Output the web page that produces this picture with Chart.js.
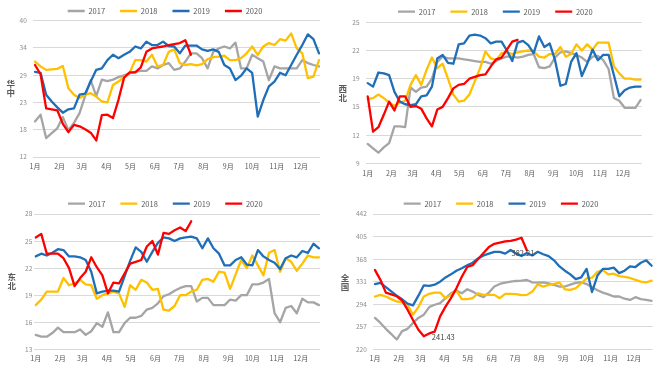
<!DOCTYPE html>
<html><head><meta charset="utf-8">
<script src="https://cdn.jsdelivr.net/npm/chart.js@4/dist/chart.umd.min.js"></script>
<style>
html,body{margin:0;padding:0;background:#fff;}
#wrap{position:relative;width:660px;height:367px;overflow:hidden;background:#fff;}
canvas{position:absolute;display:block;}
</style></head><body>
<div id="wrap">
<canvas id="c1" width="330" height="183" style="left:0;top:0"></canvas>
<canvas id="c2" width="330" height="183" style="left:330px;top:0"></canvas>
<canvas id="c3" width="330" height="184" style="left:0;top:183px"></canvas>
<canvas id="c4" width="330" height="184" style="left:330px;top:183px"></canvas>
</div>
<script>
// ---------- data ----------
const years = ['2017', '2018', '2019', '2020'];
const months = ['1月','2月','3月','4月','5月','6月','7月','8月','9月','10月','11月','12月'];
const monthDays = [31, 28, 31, 30, 31, 30, 31, 31, 30, 31, 30, 31];
const regions = ['华中', '西北', '东北', '全国'];

// 华中
const hzTicks = ['12', '18', '23', '29', '34', '40'];
const hz2017 = [19.3, 20.7, 15.9, 16.9, 17.9, 20.2, 17.5, 19.0, 21.0, 24.5, 27.8, 24.5, 27.9, 27.6, 27.9, 28.4, 28.8, 29.2, 29.5, 29.7, 29.7, 30.6, 30.2, 30.9, 31.3, 29.9, 30.2, 31.6, 33.3, 33.3, 32.3, 30.2, 33.6, 34.3, 34.7, 34.3, 35.5, 30.2, 30.2, 33.0, 32.3, 31.6, 27.8, 30.6, 30.2, 30.2, 30.2, 30.2, 31.9, 31.3, 30.9, 30.6];
const hz2018 = [31.6, 30.6, 29.9, 30.0, 30.1, 30.7, 26.1, 24.8, 24.1, 24.8, 25.1, 24.4, 23.4, 23.2, 26.8, 27.5, 28.5, 29.3, 31.9, 31.9, 31.6, 33.0, 30.6, 30.9, 33.6, 34.1, 31.3, 30.9, 31.1, 30.8, 31.1, 32.1, 32.5, 32.6, 32.8, 31.9, 31.9, 32.3, 33.3, 34.7, 33.0, 34.7, 35.4, 35.0, 36.2, 35.9, 37.4, 34.3, 33.3, 28.2, 28.5, 31.9];
const hz2019 = [29.5, 29.3, 24.8, 23.4, 22.2, 21.1, 21.8, 22.0, 24.8, 25.0, 27.5, 29.9, 30.2, 31.9, 33.0, 32.3, 33.0, 33.6, 34.7, 34.3, 35.7, 35.0, 35.0, 35.7, 34.8, 34.7, 33.3, 34.9, 34.9, 34.9, 34.1, 33.8, 34.1, 33.6, 30.9, 30.2, 27.8, 28.7, 30.2, 29.3, 20.3, 23.7, 26.5, 27.5, 29.3, 28.8, 30.9, 33.0, 35.0, 37.2, 36.2, 33.3];
const hz2020 = [30.9, 29.0, 22.0, 21.8, 21.6, 18.8, 17.1, 18.6, 18.3, 17.7, 17.0, 15.4, 20.6, 20.7, 20.0, 23.8, 28.3, 29.4, 29.4, 30.4, 33.6, 34.3, 34.5, 34.7, 35.0, 35.2, 35.4, 36.0, 33.0];

// 西北
const xbTicks = ['9', '12', '15', '19', '22', '25'];
const xb2017 = [11.2, 10.7, 10.2, 10.8, 11.3, 13.2, 13.2, 13.1, 17.6, 17.1, 17.6, 17.7, 18.6, 20.5, 21.1, 20.9, 20.9, 20.9, 20.8, 20.7, 20.6, 20.5, 20.5, 20.3, 20.6, 20.9, 21.1, 21.1, 21.0, 21.1, 21.3, 21.4, 19.9, 19.8, 20.0, 21.0, 21.6, 21.7, 21.5, 21.3, 21.0, 20.5, 21.1, 21.2, 20.7, 19.7, 16.4, 16.1, 15.3, 15.3, 15.3, 16.2];
const xb2018 = [16.3, 16.4, 16.8, 16.4, 15.9, 15.5, 15.9, 16.1, 17.9, 19.0, 17.9, 19.6, 21.0, 19.8, 20.3, 18.6, 16.8, 16.0, 16.1, 16.8, 18.3, 19.8, 21.7, 20.9, 20.7, 21.5, 21.6, 21.4, 21.6, 21.7, 21.8, 21.7, 21.1, 21.0, 21.4, 21.4, 22.2, 21.1, 21.4, 22.5, 21.8, 22.5, 21.9, 22.7, 22.7, 22.7, 20.0, 19.2, 18.6, 18.6, 18.5, 18.5];
const xb2019 = [18.1, 17.7, 19.3, 19.2, 19.0, 17.1, 16.0, 15.7, 15.6, 15.7, 16.6, 16.7, 17.7, 20.9, 21.3, 20.4, 20.3, 22.5, 22.6, 23.5, 23.6, 23.5, 23.2, 22.6, 22.8, 22.8, 21.8, 20.6, 22.7, 22.9, 22.4, 21.5, 23.4, 22.2, 22.6, 20.7, 17.8, 18.0, 20.5, 21.5, 18.9, 20.3, 21.9, 20.7, 21.3, 21.3, 19.0, 16.6, 17.3, 17.6, 17.7, 17.7];
const xb2020 = [16.6, 12.6, 13.1, 14.5, 16.0, 15.0, 16.6, 16.6, 15.4, 15.5, 15.2, 14.1, 13.2, 15.1, 15.4, 16.4, 17.5, 17.9, 18.0, 18.6, 18.8, 19.0, 19.1, 20.0, 20.8, 21.0, 21.9, 22.8, 23.0];

// 东北
const dbTicks = ['13', '16', '19', '22', '25', '28'];
const db2017 = [14.6, 14.4, 14.4, 14.8, 15.4, 14.9, 14.9, 14.9, 15.2, 14.6, 15.0, 15.9, 15.5, 17.1, 14.9, 14.9, 15.9, 16.5, 16.5, 16.7, 17.4, 17.6, 18.1, 18.9, 19.1, 19.5, 19.8, 20.0, 20.0, 18.3, 18.7, 18.7, 17.9, 17.9, 17.9, 18.5, 18.4, 19.0, 19.0, 20.2, 20.2, 20.4, 20.8, 17.0, 16.0, 17.6, 17.8, 17.0, 18.6, 18.2, 18.2, 17.9];
const db2018 = [17.9, 18.5, 19.4, 19.4, 19.4, 20.9, 20.1, 20.3, 20.7, 20.2, 20.1, 18.6, 19.0, 19.2, 19.4, 19.2, 17.7, 20.1, 19.6, 20.7, 20.4, 19.6, 19.7, 17.4, 17.3, 17.8, 19.0, 19.0, 19.4, 19.6, 20.7, 20.8, 20.5, 21.6, 21.5, 19.7, 21.3, 22.9, 22.0, 23.4, 22.3, 21.2, 23.7, 24.0, 21.6, 23.1, 22.7, 21.7, 22.5, 23.4, 23.2, 23.2];
const db2019 = [23.3, 23.6, 23.4, 23.7, 24.1, 24.0, 23.3, 23.3, 23.2, 22.9, 21.6, 19.2, 19.4, 19.5, 19.5, 19.4, 21.1, 22.8, 24.3, 23.8, 22.7, 23.8, 24.8, 25.4, 25.3, 25.0, 25.3, 25.4, 25.5, 25.3, 24.2, 25.3, 24.2, 23.6, 22.3, 22.3, 22.9, 23.2, 22.4, 22.3, 24.0, 23.3, 22.9, 22.6, 21.9, 23.1, 23.4, 23.2, 23.9, 23.7, 24.7, 24.2];
const db2020 = [25.4, 25.8, 23.6, 23.6, 23.6, 23.1, 22.0, 20.0, 20.9, 21.6, 23.2, 22.1, 21.2, 19.2, 20.4, 20.3, 21.4, 22.5, 22.7, 22.9, 24.4, 25.0, 23.5, 25.9, 25.8, 26.2, 26.5, 26.1, 27.2];

// 全国
const qgTicks = ['220', '257', '294', '331', '368', '405', '442'];
const qg2017 = [271.4, 263.3, 253.6, 245.0, 236.0, 249.8, 253.6, 263.3, 271.4, 276.8, 289.3, 293.1, 295.8, 303.9, 312.0, 316.4, 312.0, 318.5, 314.7, 309.3, 305.5, 313.1, 322.9, 327.2, 329.4, 331.0, 332.1, 332.6, 333.7, 329.9, 329.4, 329.9, 328.3, 325.6, 322.9, 323.0, 326.0, 329.0, 330.0, 327.0, 322.0, 317.0, 313.0, 310.0, 306.6, 306.6, 303.0, 301.0, 305.5, 302.3, 301.2, 299.6];
const qg2018 = [306.6, 309.3, 306.6, 302.3, 298.5, 296.9, 293.1, 276.8, 289.3, 306.6, 311.0, 313.1, 313.1, 303.9, 309.3, 316.4, 302.3, 302.3, 303.9, 312.0, 309.3, 309.3, 309.3, 303.9, 311.0, 311.0, 310.4, 308.8, 309.3, 314.7, 326.7, 322.9, 325.6, 327.2, 329.4, 318.5, 317.5, 320.2, 328.3, 336.4, 337.5, 347.2, 350.0, 343.0, 344.0, 340.0, 339.0, 337.0, 334.0, 331.0, 329.9, 332.6];
const qg2019 = [327, 329, 322, 315, 308, 302, 295, 292, 308, 325, 324, 326, 331, 338, 343, 349, 353, 358, 362, 369, 374, 377, 380, 380, 377, 383, 377, 373, 378, 374, 380, 376, 373, 366, 356, 349, 343, 335, 338, 352, 314, 341, 352, 352, 354, 345, 349, 356, 355, 362, 366, 357];
const qg2020 = [350, 334, 313, 310, 307, 300, 285, 268, 252, 241.43, 246, 249, 274, 290, 304, 320, 339, 355, 358, 368, 378, 388, 393, 395, 397, 398, 400, 403, 382.21];

// ---------- styles ----------
const seriesColors = ['#A5A5A5', '#FFC000', '#1F6EB8', '#FF0000'];
const FONT = '"Noto Sans CJK SC", "Noto Sans", sans-serif';

function makePlugins(g, region, labelDataset) {
  const legendHeight = {
    id: 'legendHeight',
    beforeInit(chart) {
      const legend = chart.legend;
      const orig = legend.fit;
      legend.fit = function () { orig.call(this); this.height = g.yTop - g.padTop; };
    }
  };
  const sideTitle = {
    id: 'sideTitle',
    afterDraw(chart) {
      const ctx = chart.ctx;
      ctx.save();
      ctx.font = 'bold 8.5px ' + FONT;
      ctx.fillStyle = '#595959';
      ctx.textAlign = 'center';
      ctx.textBaseline = 'middle';
      Array.from(region).forEach((ch, k) => ctx.fillText(ch, g.tx, g.ty + k * 9.6));
      ctx.restore();
    }
  };
  const pointLabels = {
    id: 'pointLabels',
    afterDatasetsDraw(chart) {
      if (labelDataset == null) return;
      const meta = chart.getDatasetMeta(labelDataset);
      const vals = chart.data.datasets[labelDataset].data.map(p => p.y);
      const minI = vals.indexOf(Math.min(...vals));
      const lastI = vals.length - 1;
      const ctx = chart.ctx;
      ctx.save();
      ctx.font = '7.5px ' + FONT;
      ctx.fillStyle = '#404040';
      ctx.textBaseline = 'middle';
      const pm = meta.data[minI];
      ctx.textAlign = 'left';
      ctx.fillText(vals[minI].toFixed(2), pm.x + 8, pm.y + 1);
      const pl = meta.data[lastI];
      ctx.textAlign = 'center';
      ctx.fillText(vals[lastI].toFixed(2), pl.x - 4, pl.y + 3);
      ctx.restore();
    }
  };
  return [legendHeight, sideTitle, pointLabels];
}

function build(canvasId, region, series, yLabels, g, labelDataset) {
  const canvas = document.getElementById(canvasId);
  const W = canvas.width, H = canvas.height;
  const s = (g.x51 - g.x0) / 51;
  const xMin = g.xMin, xMax = 51.2;
  const areaLeft = g.x0 + xMin * s;
  const areaRight = g.x0 + xMax * s;
  const padRight = W - areaRight;
  const padLeft = Math.max(0, 2 * g.legendX - 136 + padRight);
  const legendPad = 15, legendFont = 7.5;
  g.padTop = g.legendY - legendPad - legendFont / 2;
  const yVals = yLabels.map(Number);
  const yMin = yVals[0], yMax = yVals[yVals.length - 1];
  const monthStart = monthDays.map((d, i) => monthDays.slice(0, i).reduce((a, b) => a + b, 0) / 7);
  new Chart(canvas, {
    type: 'line',
    data: {
      datasets: series.map((arr, k) => ({
        label: years[k],
        data: arr.map((v, i) => ({ x: i, y: v })),
        borderColor: seriesColors[k],
        backgroundColor: seriesColors[k],
        borderWidth: 2.3,
        pointRadius: 0,
        tension: 0,
        order: 4 - k,
        borderJoinStyle: 'round',
        borderCapStyle: 'round'
      }))
    },
    options: {
      responsive: false,
      animation: false,
      devicePixelRatio: 1,
      layout: { padding: { top: g.padTop, left: padLeft, right: padRight, bottom: 0 } },
      plugins: {
        legend: {
          position: 'top',
          labels: {
            usePointStyle: true, pointStyle: 'line', pointStyleWidth: 17,
            padding: legendPad, color: '#595959',
            font: { family: FONT, size: legendFont },
            sort: (a, b) => a.datasetIndex - b.datasetIndex
          }
        },
        tooltip: { enabled: false }
      },
      scales: {
        x: {
          type: 'linear', min: xMin, max: xMax,
          grid: { display: false, drawTicks: false },
          border: { display: false },
          afterBuildTicks: sc => { sc.ticks = monthStart.map(v => ({ value: v })); },
          ticks: {
            autoSkip: false, maxRotation: 0, minRotation: 0,
            padding: g.xLabelY - g.yBot - 4.2,
            color: '#595959', font: { family: FONT, size: 7 },
            callback: (v, i) => months[i]
          },
          afterFit: sc => { sc.height = H - g.yBot; }
        },
        y: {
          type: 'linear', min: yMin, max: yMax,
          grid: { color: '#D9D9D9', lineWidth: 1, drawTicks: false },
          border: { display: false },
          afterBuildTicks: sc => {
            sc.ticks = yVals.map((_, i) => ({ value: yMin + i * (yMax - yMin) / (yVals.length - 1) }));
          },
          ticks: {
            padding: g.yPad, color: '#8C8C8C', font: { family: FONT, size: 6.5 },
            callback: (v, i) => yLabels[i]
          },
          afterFit: sc => { sc.width = areaLeft - padLeft; }
        }
      }
    },
    plugins: makePlugins(g, region, labelDataset)
  });
}

build('c1', regions[0], [hz2017, hz2018, hz2019, hz2020], hzTicks,
  { x0: 35, x51: 319, yTop: 20.7, yBot: 157, legendY: 11, legendX: 68, xLabelY: 166, tx: 10.7, ty: 83.5, xMin: -0.4, yPad: 6 }, null);
build('c2', regions[1], [xb2017, xb2018, xb2019, xb2020], xbTicks,
  { x0: 37.7, x51: 310.7, yTop: 22.3, yBot: 163.3, legendY: 11.7, legendX: 68.3, xLabelY: 173, tx: 12.7, ty: 88.5, xMin: -0.4, yPad: 6 }, null);
build('c3', regions[2], [db2017, db2018, db2019, db2020], dbTicks,
  { x0: 35.7, x51: 319, yTop: 31, yBot: 166.3, legendY: 20.7, legendX: 68.3, xLabelY: 175, tx: 11.7, ty: 93.5, xMin: -0.25, yPad: 2 }, null);
build('c4', regions[3], [qg2017, qg2018, qg2019, qg2020], qgTicks,
  { x0: 45, x51: 321.7, yTop: 31, yBot: 166.3, legendY: 20.7, legendX: 74, xLabelY: 175, tx: 15, ty: 94.5, xMin: -0.4, yPad: 6 }, 3);
</script>
</body></html>
